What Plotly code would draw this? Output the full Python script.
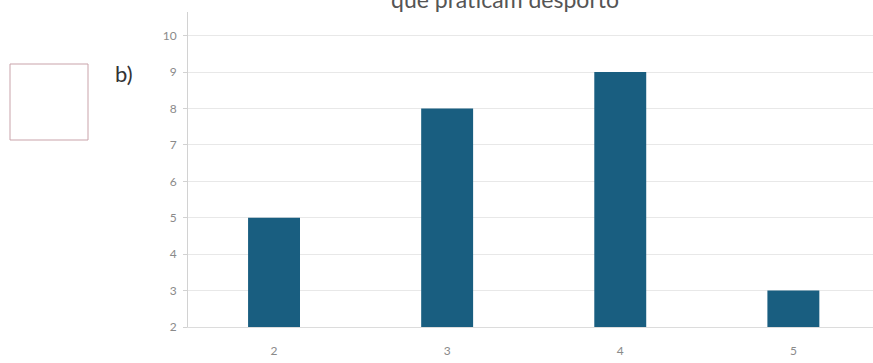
import plotly.graph_objects as go

categories = ["2", "3", "4", "5"]
values = [5, 8, 9, 3]
y_ticks = [2, 3, 4, 5, 6, 7, 8, 9, 10]

bar_color = "#195e80"

fig = go.Figure()
fig.add_trace(go.Bar(
    x=list(range(len(categories))),
    y=[v - 2 for v in values],
    base=2,
    width=0.3,
    marker=dict(color=bar_color, line=dict(width=0)),
    hoverinfo="skip",
))

fig.update_layout(
    width=873, height=363,
    margin=dict(l=188, r=0, t=12, b=36),
    paper_bgcolor="white", plot_bgcolor="white",
    showlegend=False,
    font=dict(family="Lato, Open Sans, sans-serif", color="#8a8a8a", size=12),
    xaxis=dict(
        range=[-0.497, 3.46],
        tickmode="array",
        tickvals=list(range(len(categories))),
        ticktext=categories,
        showgrid=False, zeroline=False,
        showline=True, linecolor="#dcdcdc", linewidth=1,
        ticks="", ticklabelstandoff=13,
        tickfont=dict(size=12, color="#8a8a8a"),
        fixedrange=True,
    ),
    yaxis=dict(
        range=[2, 10.65],
        tickmode="array",
        tickvals=y_ticks,
        showgrid=True, gridcolor="#e8e8e8", gridwidth=1,
        zeroline=False,
        showline=True, linecolor="#d2d2d2", linewidth=1,
        ticks="outside", ticklen=4, tickcolor="#d2d2d2",
        ticklabelstandoff=4,
        tickfont=dict(size=12, color="#8a8a8a"),
        fixedrange=True,
    ),
    shapes=[
        dict(type="rect", xref="paper", yref="paper",
             x0=-(188 - 10) / 685, x1=-(188 - 88) / 685,
             y0=(327 - 140) / 315, y1=(327 - 64) / 315,
             line=dict(color="#c9a3aa", width=1), fillcolor="rgba(0,0,0,0)"),
    ],
    annotations=[
        dict(text="b)", xref="paper", yref="paper",
             x=-(188 - 124) / 685, y=(327 - 73) / 315,
             xanchor="center", yanchor="middle", showarrow=False,
             font=dict(family="Lato, sans-serif", size=22, color="#333333")),
        dict(text="que praticam desporto", xref="paper", yref="paper",
             x=(505 - 188) / 685, y=1, yshift=13,
             xanchor="center", yanchor="middle", showarrow=False,
             font=dict(family="Lato, sans-serif", size=23, color="#555555")),
    ],
)

fig.write_html("out.html")
